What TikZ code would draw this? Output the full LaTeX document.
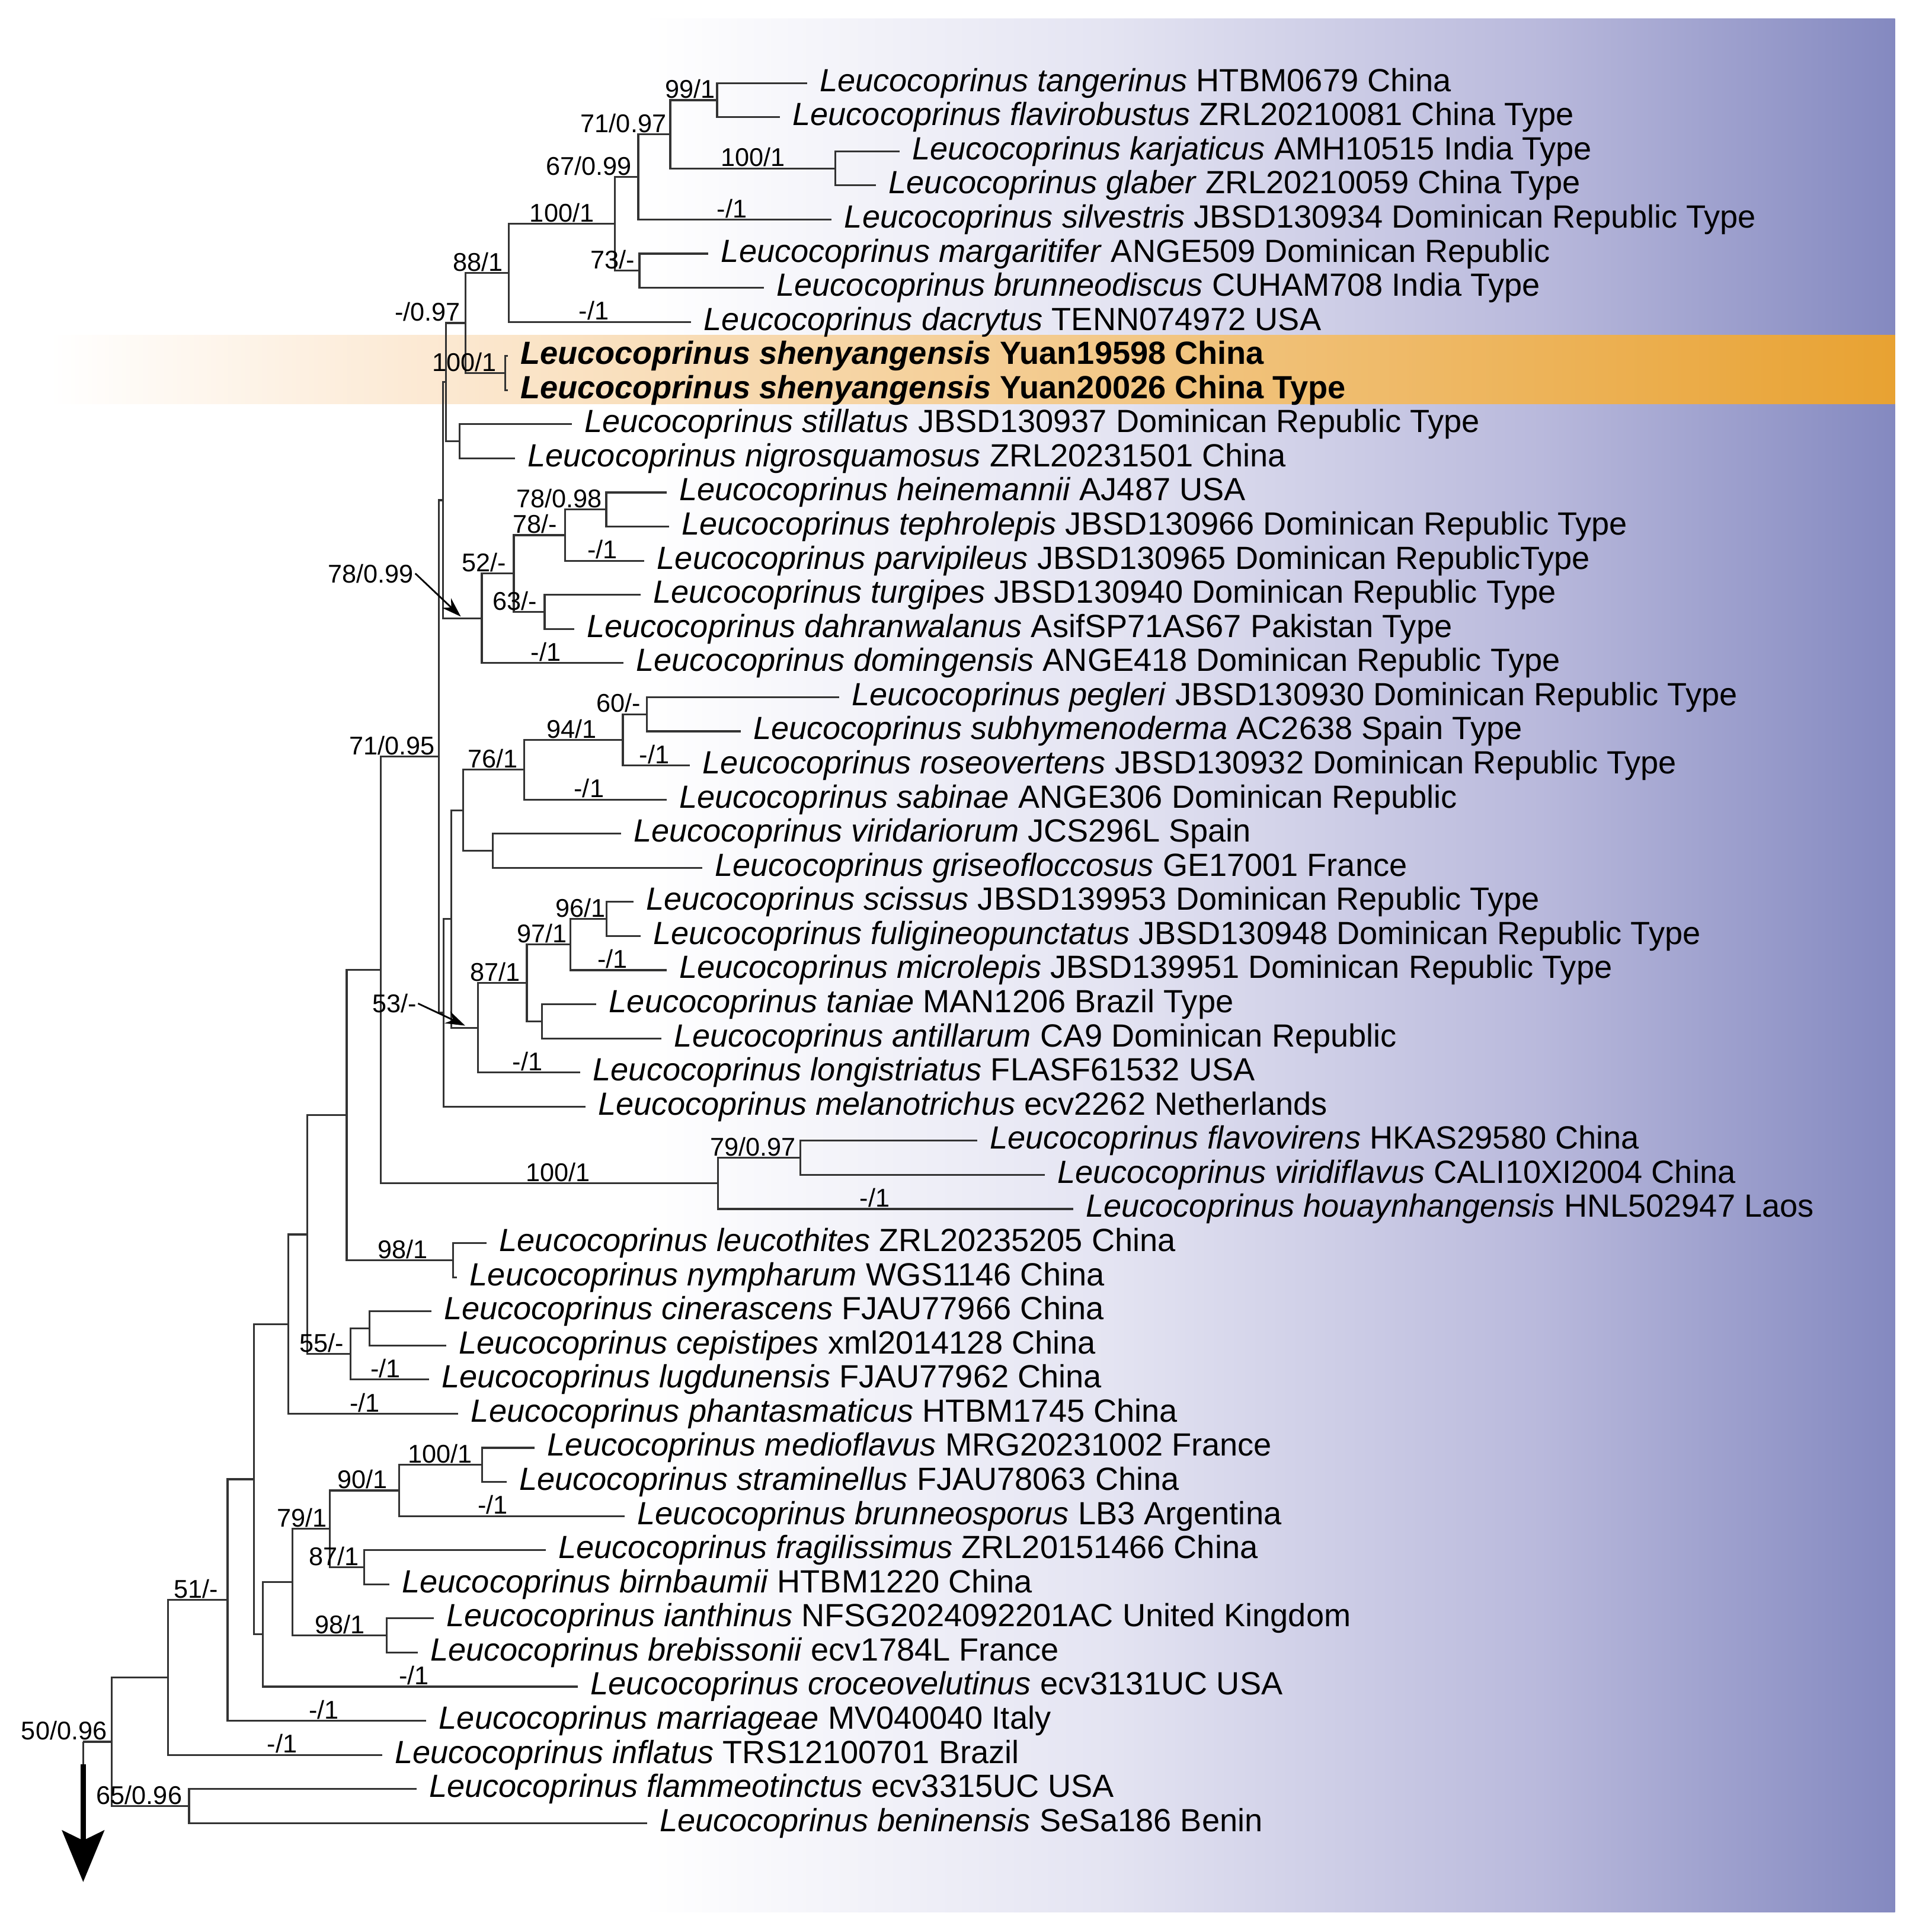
\documentclass[tikz,border=0pt]{standalone}
\usepackage{fontspec}
\setmainfont{Liberation Sans}
\usetikzlibrary{arrows.meta, calc}
\definecolor{bgA}{HTML}{E4E4F2}
\definecolor{bgB}{HTML}{B9B9DC}
\definecolor{bgC}{HTML}{8489C0}
\definecolor{orA}{HTML}{FCEAD5}
\definecolor{orB}{HTML}{E8A232}
\newcommand{\lc}[1]{\textit{Leucocoprinus #1}}

\begin{document}
\begin{tikzpicture}[x=0.02079cm, y=-0.02079cm,
  branch/.style={draw=black!80, line width=0.9pt},
  tip/.style={anchor=west, inner xsep=0.208cm, inner ysep=1pt, font=\fontsize{15.4}{18}\selectfont},
  bs/.style={anchor=south, inner sep=0.6pt, font=\fontsize{12.3}{14}\selectfont},
  ptr/.style={draw=black, line width=0.8pt, -{Stealth[length=0.33cm, width=0.22cm]}}]
\useasboundingbox (0,0) rectangle (1555,1568);

% 背景
\shade[left color=white, right color=bgA] (520,15) rectangle (900,1552);
\shade[left color=bgA, right color=bgB] (900,15) rectangle (1250,1552);
\shade[left color=bgB, right color=bgC] (1250,15) rectangle (1538,1552);
% 新種の帯
\shade[left color=white, right color=orA] (40,272) rectangle (330,328);
\shade[left color=orA, right color=orB] (330,272) rectangle (1538,328);

\begin{scope}[yshift=-0.05cm]
% 末端
\foreach \xt/\txt [count=\i from 0] in {
  665/{\lc{tangerinus} HTBM0679 China},
  643/{\lc{flavirobustus} ZRL20210081 China Type},
  740/{\lc{karjaticus} AMH10515 India Type},
  721/{\lc{glaber} ZRL20210059 China Type},
  685/{\lc{silvestris} JBSD130934 Dominican Republic Type},
  585/{\lc{margaritifer} ANGE509 Dominican Republic},
  630/{\lc{brunneodiscus} CUHAM708 India Type},
  571/{\lc{dacrytus} TENN074972 USA},
  422/{\bfseries\lc{shenyangensis} Yuan19598 China},
  422/{\bfseries\lc{shenyangensis} Yuan20026 China Type},
  474/{\lc{stillatus} JBSD130937 Dominican Republic Type},
  428/{\lc{nigrosquamosus} ZRL20231501 China},
  551/{\lc{heinemannii} AJ487 USA},
  553/{\lc{tephrolepis} JBSD130966 Dominican Republic Type},
  533/{\lc{parvipileus} JBSD130965 Dominican RepublicType},
  530/{\lc{turgipes} JBSD130940 Dominican Republic Type},
  476/{\lc{dahranwalanus} AsifSP71AS67 Pakistan Type},
  516/{\lc{domingensis} ANGE418 Dominican Republic Type},
  691/{\lc{pegleri} JBSD130930 Dominican Republic Type},
  611/{\lc{subhymenoderma} AC2638 Spain Type},
  570/{\lc{roseovertens} JBSD130932 Dominican Republic Type},
  551/{\lc{sabinae} ANGE306 Dominican Republic},
  514/{\lc{viridariorum} JCS296L Spain},
  580/{\lc{griseofloccosus} GE17001 France},
  524/{\lc{scissus} JBSD139953 Dominican Republic Type},
  530/{\lc{fuligineopunctatus} JBSD130948 Dominican Republic Type},
  551/{\lc{microlepis} JBSD139951 Dominican Republic Type},
  494/{\lc{taniae} MAN1206 Brazil Type},
  547/{\lc{antillarum} CA9 Dominican Republic},
  481/{\lc{longistriatus} FLASF61532 USA},
  485/{\lc{melanotrichus} ecv2262 Netherlands},
  803/{\lc{flavovirens} HKAS29580 China},
  858/{\lc{viridiflavus} CALI10XI2004 China},
  881/{\lc{houaynhangensis} HNL502947 Laos},
  405/{\lc{leucothites} ZRL20235205 China},
  381/{\lc{nympharum} WGS1146 China},
  360/{\lc{cinerascens} FJAU77966 China},
  372/{\lc{cepistipes} xml2014128 China},
  358/{\lc{lugdunensis} FJAU77962 China},
  382/{\lc{phantasmaticus} HTBM1745 China},
  444/{\lc{medioflavus} MRG20231002 France},
  421/{\lc{straminellus} FJAU78063 China},
  517/{\lc{brunneosporus} LB3 Argentina},
  453/{\lc{fragilissimus} ZRL20151466 China},
  326/{\lc{birnbaumii} HTBM1220 China},
  362/{\lc{ianthinus} NFSG2024092201AC United Kingdom},
  349/{\lc{brebissonii} ecv1784L France},
  479/{\lc{croceovelutinus} ecv3131UC USA},
  356/{\lc{marriageae} MV040040 Italy},
  320/{\lc{inflatus} TRS12100701 Brazil},
  348/{\lc{flammeotinctus} ecv3315UC USA},
  535/{\lc{beninensis} SeSa186 Benin}}
{
  \pgfmathsetmacro\ty{65+27.69*\i}
  \node[tip] (t\i) at (\xt-10,\ty) {\txt};
}

% 内部節
\foreach \n/\x/\y in {A/582/78.85, C/678/134.23, B/544/106.54, D/518/141.15,
  E/519/217.3, F/499/179.22, G/413/219.03, S/410/300.37, H/378/259.7,
  J/373/355.75, I1/362/307.72, K4/492/411.13, K3/458.6/431.9, K5/442/494.2,
  K2/417/463.05, K/391/499.39, I2/359.5/403.56, R60/524.8/577.27,
  R94/505.5/598.03, R76/425.5/622.26, RV/400/688.03, L/375.7/655.14,
  R96/492.3/743.4, R97/462.8/764.17, RT/440/826.48, T87/427.6/795.32,
  U/388/831.67, M/366.4/743.4, Q/360/819.55, P/356/611.55, W2/649.4/937.23,
  W/582.6/958, V/309/784.78, Y98/367.9/1020.3, X/281.4/902.54,
  CC/299.8/1075.68, BB/284.6/1096.45, Z/249.5/999.5, AA/234/1072.2,
  JJ/391.2/1186.45, II/324/1207.21, KK/295.4/1269.52, HH/267.8/1238.36,
  LL/313.9/1324.9, GG/237.4/1281.63, FF/213.4/1324.03, DD/206/1198.12,
  EE/184.7/1296.12, MM/136.5/1358.97, OO/153.4/1463.35, NN/90.5/1411.16}
  \coordinate (\n) at (\x,\y);

% 枝
\foreach \p/\c in {A/t0, A/t1, C/t2, C/t3, B/A, B/C, D/B, D/t4, E/t5, E/t6,
  F/D, F/E, G/F, G/t7, S/t8, S/t9, H/G, H/S, J/t10, J/t11, I1/H, I1/J,
  K4/t12, K4/t13, K3/K4, K3/t14, K5/t15, K5/t16, K2/K3, K2/K5, K/K2, K/t17,
  I2/I1, I2/K, R60/t18, R60/t19, R94/R60, R94/t20, R76/R94, R76/t21,
  RV/t22, RV/t23, L/R76, L/RV, R96/t24, R96/t25, R97/R96, R97/t26,
  RT/t27, RT/t28, T87/R97, T87/RT, U/T87, U/t29, M/L, M/U, Q/M, Q/t30,
  P/I2, P/Q, W2/t31, W2/t32, W/W2, W/t33, V/P, V/W, Y98/t34, Y98/t35,
  X/V, X/Y98, CC/t36, CC/t37, BB/CC, BB/t38, Z/X, Z/BB, AA/Z, AA/t39,
  JJ/t40, JJ/t41, II/JJ, II/t42, KK/t43, KK/t44, HH/II, HH/KK, LL/t45,
  LL/t46, GG/HH, GG/LL, FF/GG, FF/t47, DD/AA, DD/FF, EE/DD, EE/t48,
  MM/EE, MM/t49, OO/t50, OO/t51, NN/MM, NN/OO}
  \draw[branch] (\p) |- (\c);

% 根と矢印
\coordinate (root) at (67.5,1411.16);
\coordinate (rootb) at (67.5,1429.6);
\coordinate (rootend) at (67.5,1525);
\draw[branch] (root) -- (NN);
\draw[branch] (root) -- (rootb);
\draw[line width=2.5pt, -{Stealth[length=0.87cm, width=0.71cm, inset=0.17cm]}] (rootb) -- (rootend);

% 支持値
\foreach \x/\y/\t [count=\k] in {560/78.85/{99/1}, 506/106.54/{71/0.97},
  611/134.23/{100/1}, 478/141.15/{67/0.99}, 594/175.76/{-/1},
  456/179.22/{100/1}, 497/217.3/{73/-}, 388/219.03/{88/1},
  482/258.83/{-/1}, 347/259.7/{-/0.97}, 377/300.37/{100/1},
  454/411.13/{78/0.98}, 434/431.9/{78/-}, 489/452.66/{-/1},
  393/463.05/{52/-}, 418/494.2/{63/-}, 443/535.73/{-/1},
  502/577.27/{60/-}, 464/598.03/{94/1}, 531/618.8/{-/1},
  400/622.26/{76/1}, 318/611.55/{71/0.95}, 478/646.49/{-/1},
  471/743.4/{96/1}, 440/764.17/{97/1}, 497/784.94/{-/1},
  402/795.32/{87/1}, 428/868.01/{-/1}, 611/937.23/{79/0.97},
  453/958/{100/1}, 710/978.77/{-/1}, 327/1020.3/{98/1},
  261/1096.45/{55/-}, 313/1117.22/{-/1}, 296/1144.91/{-/1},
  357/1186.45/{100/1}, 294/1207.21/{90/1}, 400/1227.98/{-/1},
  245/1238.36/{79/1}, 271/1269.52/{87/1}, 276/1324.9/{98/1},
  336/1366.43/{-/1}, 263/1394.12/{-/1}, 229/1421.81/{-/1},
  159/1296.12/{51/-}, 52/1411.16/{50/0.96}, 113/1463.35/{65/0.96}}
  \node[bs] (bs\k) at (\x,\y) {\t};

% 矢印付きの支持値
\node[bs, anchor=center] (bs7899) at (301,463) {78/0.99};
\coordinate (k99) at (374,498);
\draw[ptr] (bs7899.east) -- (k99);
\node[bs, anchor=center] (bs53) at (320,812) {53/-};
\coordinate (u53) at (377.5,830);
\draw[ptr] (bs53.east) -- (u53);
\end{scope}
\end{tikzpicture}
\end{document}
